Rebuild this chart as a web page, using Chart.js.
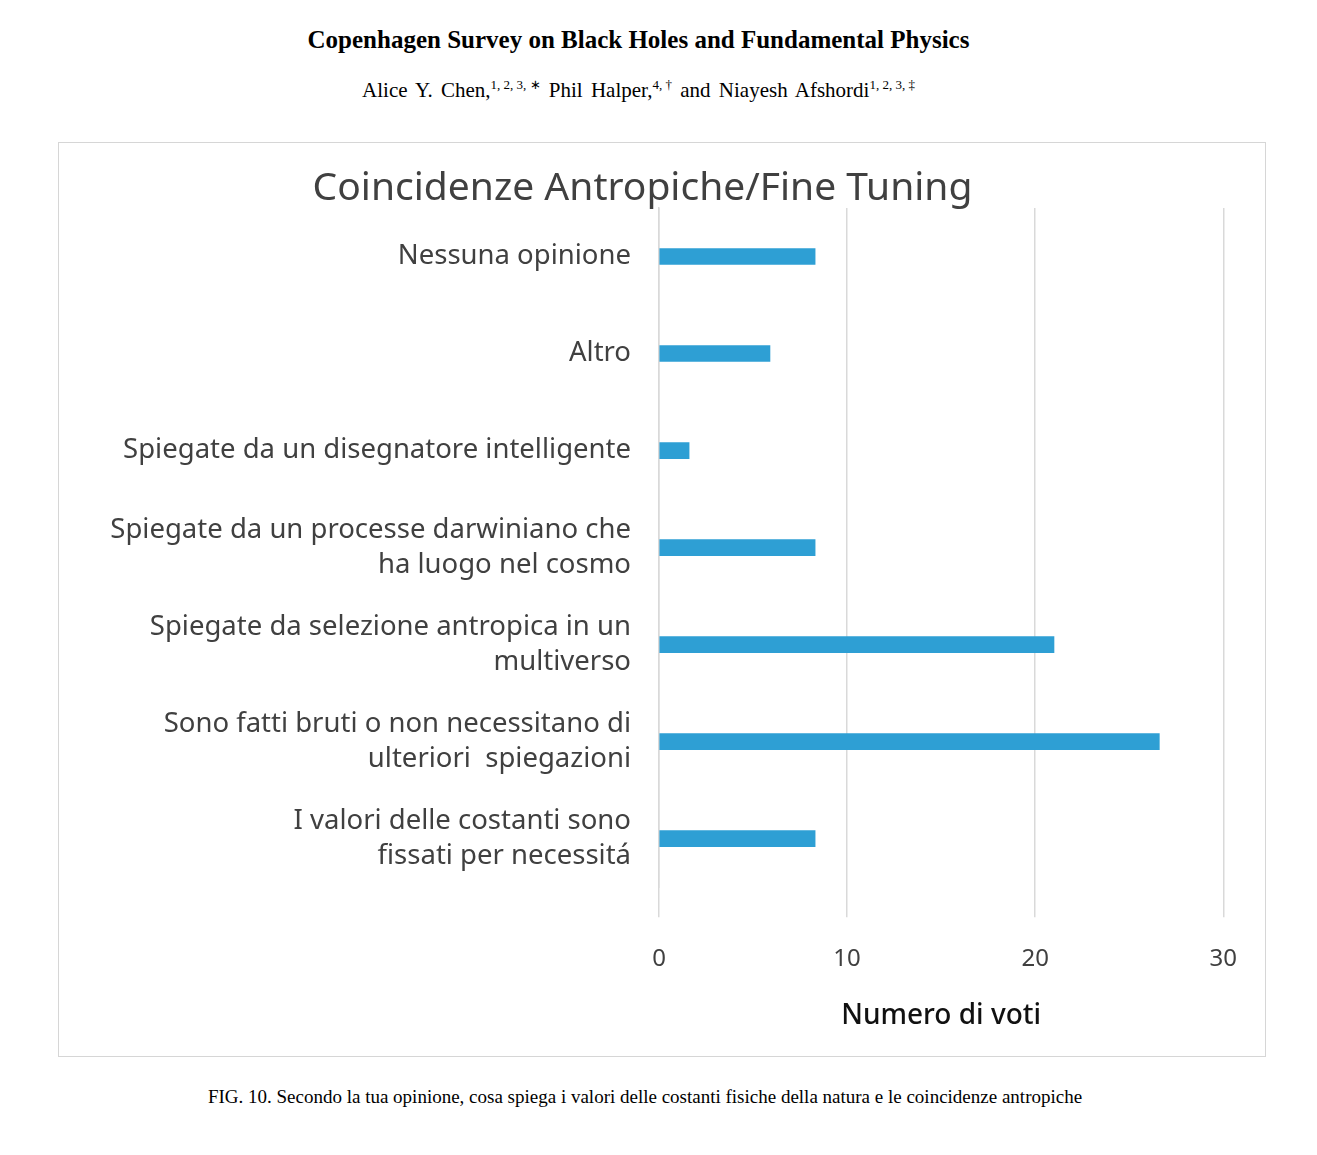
<!DOCTYPE html>
<html>
<head>
<meta charset="utf-8">
<script src="https://cdn.jsdelivr.net/npm/chart.js@4"></script>
<style>
  html, body { margin: 0; padding: 0; background: #fff; }
  body { width: 1317px; height: 1155px; position: relative; font-family: "Liberation Serif", "Times New Roman", serif; color: #000; }
  .paper-title { position: absolute; top: 26px; left: 0; width: 1277px; text-align: center; font-weight: bold; font-size: 25px; }
  .authors { position: absolute; top: 77px; left: 0; width: 1277px; text-align: center; font-size: 21px; word-spacing: 3px; }
  .authors sup { font-size: 13px; word-spacing: 0; }
  .box { position: absolute; left: 58px; top: 142px; width: 1206px; height: 913px; border: 1px solid #d6d6d6; }
  .caption { position: absolute; top: 1086px; left: 0; width: 1290px; text-align: center; font-size: 19px; }
</style>
</head>
<body>
<div class="paper-title">Copenhagen Survey on Black Holes and Fundamental Physics</div>
<div class="authors">Alice Y. Chen,<sup>1, 2, 3, &lowast;</sup> Phil Halper,<sup>4, &dagger;</sup> and Niayesh Afshordi<sup>1, 2, 3, &Dagger;</sup></div>
<div class="box"><canvas id="chart" width="1206" height="913"></canvas></div>
<div class="caption">FIG. 10. Secondo la tua opinione, cosa spiega i valori delle costanti fisiche della natura e le coincidenze antropiche</div>

<script>
// answers, top to bottom
const categories = [
    ['Nessuna opinione'],
    ['Altro'],
    ['Spiegate da un disegnatore intelligente'],
    ['Spiegate da un processe darwiniano che', 'ha luogo nel cosmo'],
    ['Spiegate da selezione antropica in un', 'multiverso'],
    ['Sono fatti bruti o non necessitano di', 'ulteriori  spiegazioni'],
    ['I valori delle costanti sono', 'fissati per necessitá'],
];

const votes = [8.3, 5.9, 1.6, 8.3, 21, 26.6, 8.3];

const xTicks = [0, 10, 20, 30];

const chartFont = '"Noto Sans", sans-serif';

const ctx = document.getElementById('chart').getContext('2d');

new Chart(ctx, {
    type: 'bar',
    data: {
        labels: categories,
        datasets: [
            {
                label: 'Numero di voti',
                data: votes,
                backgroundColor: '#2e9fd4',
                barThickness: 16,
            },
        ],
    },
    options: {
        indexAxis: 'y',
        responsive: false,
        animation: false,
        layout: {
            padding: { left: 0, right: 39, top: 0, bottom: 26 },
        },
        scales: {
            x: {
                min: 0,
                max: 30,
                afterBuildTicks: (scale) => {
                    scale.ticks = xTicks.map((v) => ({ value: v }));
                },
                grid: {
                    color: '#d9d9d9',
                    lineWidth: 1.5,
                    tickLength: 30,
                },
                border: { display: false },
                ticks: {
                    color: '#404040',
                    font: { family: chartFont, size: 24 },
                    padding: 28,
                },
                title: {
                    display: true,
                    text: 'Numero di voti',
                    color: '#111',
                    font: { family: chartFont, size: 28, weight: '500', lineHeight: 1 },
                    padding: { top: 0, bottom: 0 },
                },
            },
            y: {
                afterFit: (scale) => {
                    scale.width = 600;
                },
                grid: { display: false },
                border: { display: true, color: '#d9d9d9', width: 1.5 },
                ticks: {
                    color: '#404040',
                    font: { family: chartFont, size: 27.5, lineHeight: 1.3 },
                    padding: 20,
                },
            },
        },
        plugins: {
            legend: { display: false },
            tooltip: { enabled: false },
            title: {
                display: true,
                text: 'Coincidenze Antropiche/Fine Tuning',
                color: '#404040',
                font: { family: chartFont, size: 39, weight: 'normal', lineHeight: 1 },
                padding: { top: 26, bottom: 0 },
            },
        },
    },
});
</script>
</body>
</html>
